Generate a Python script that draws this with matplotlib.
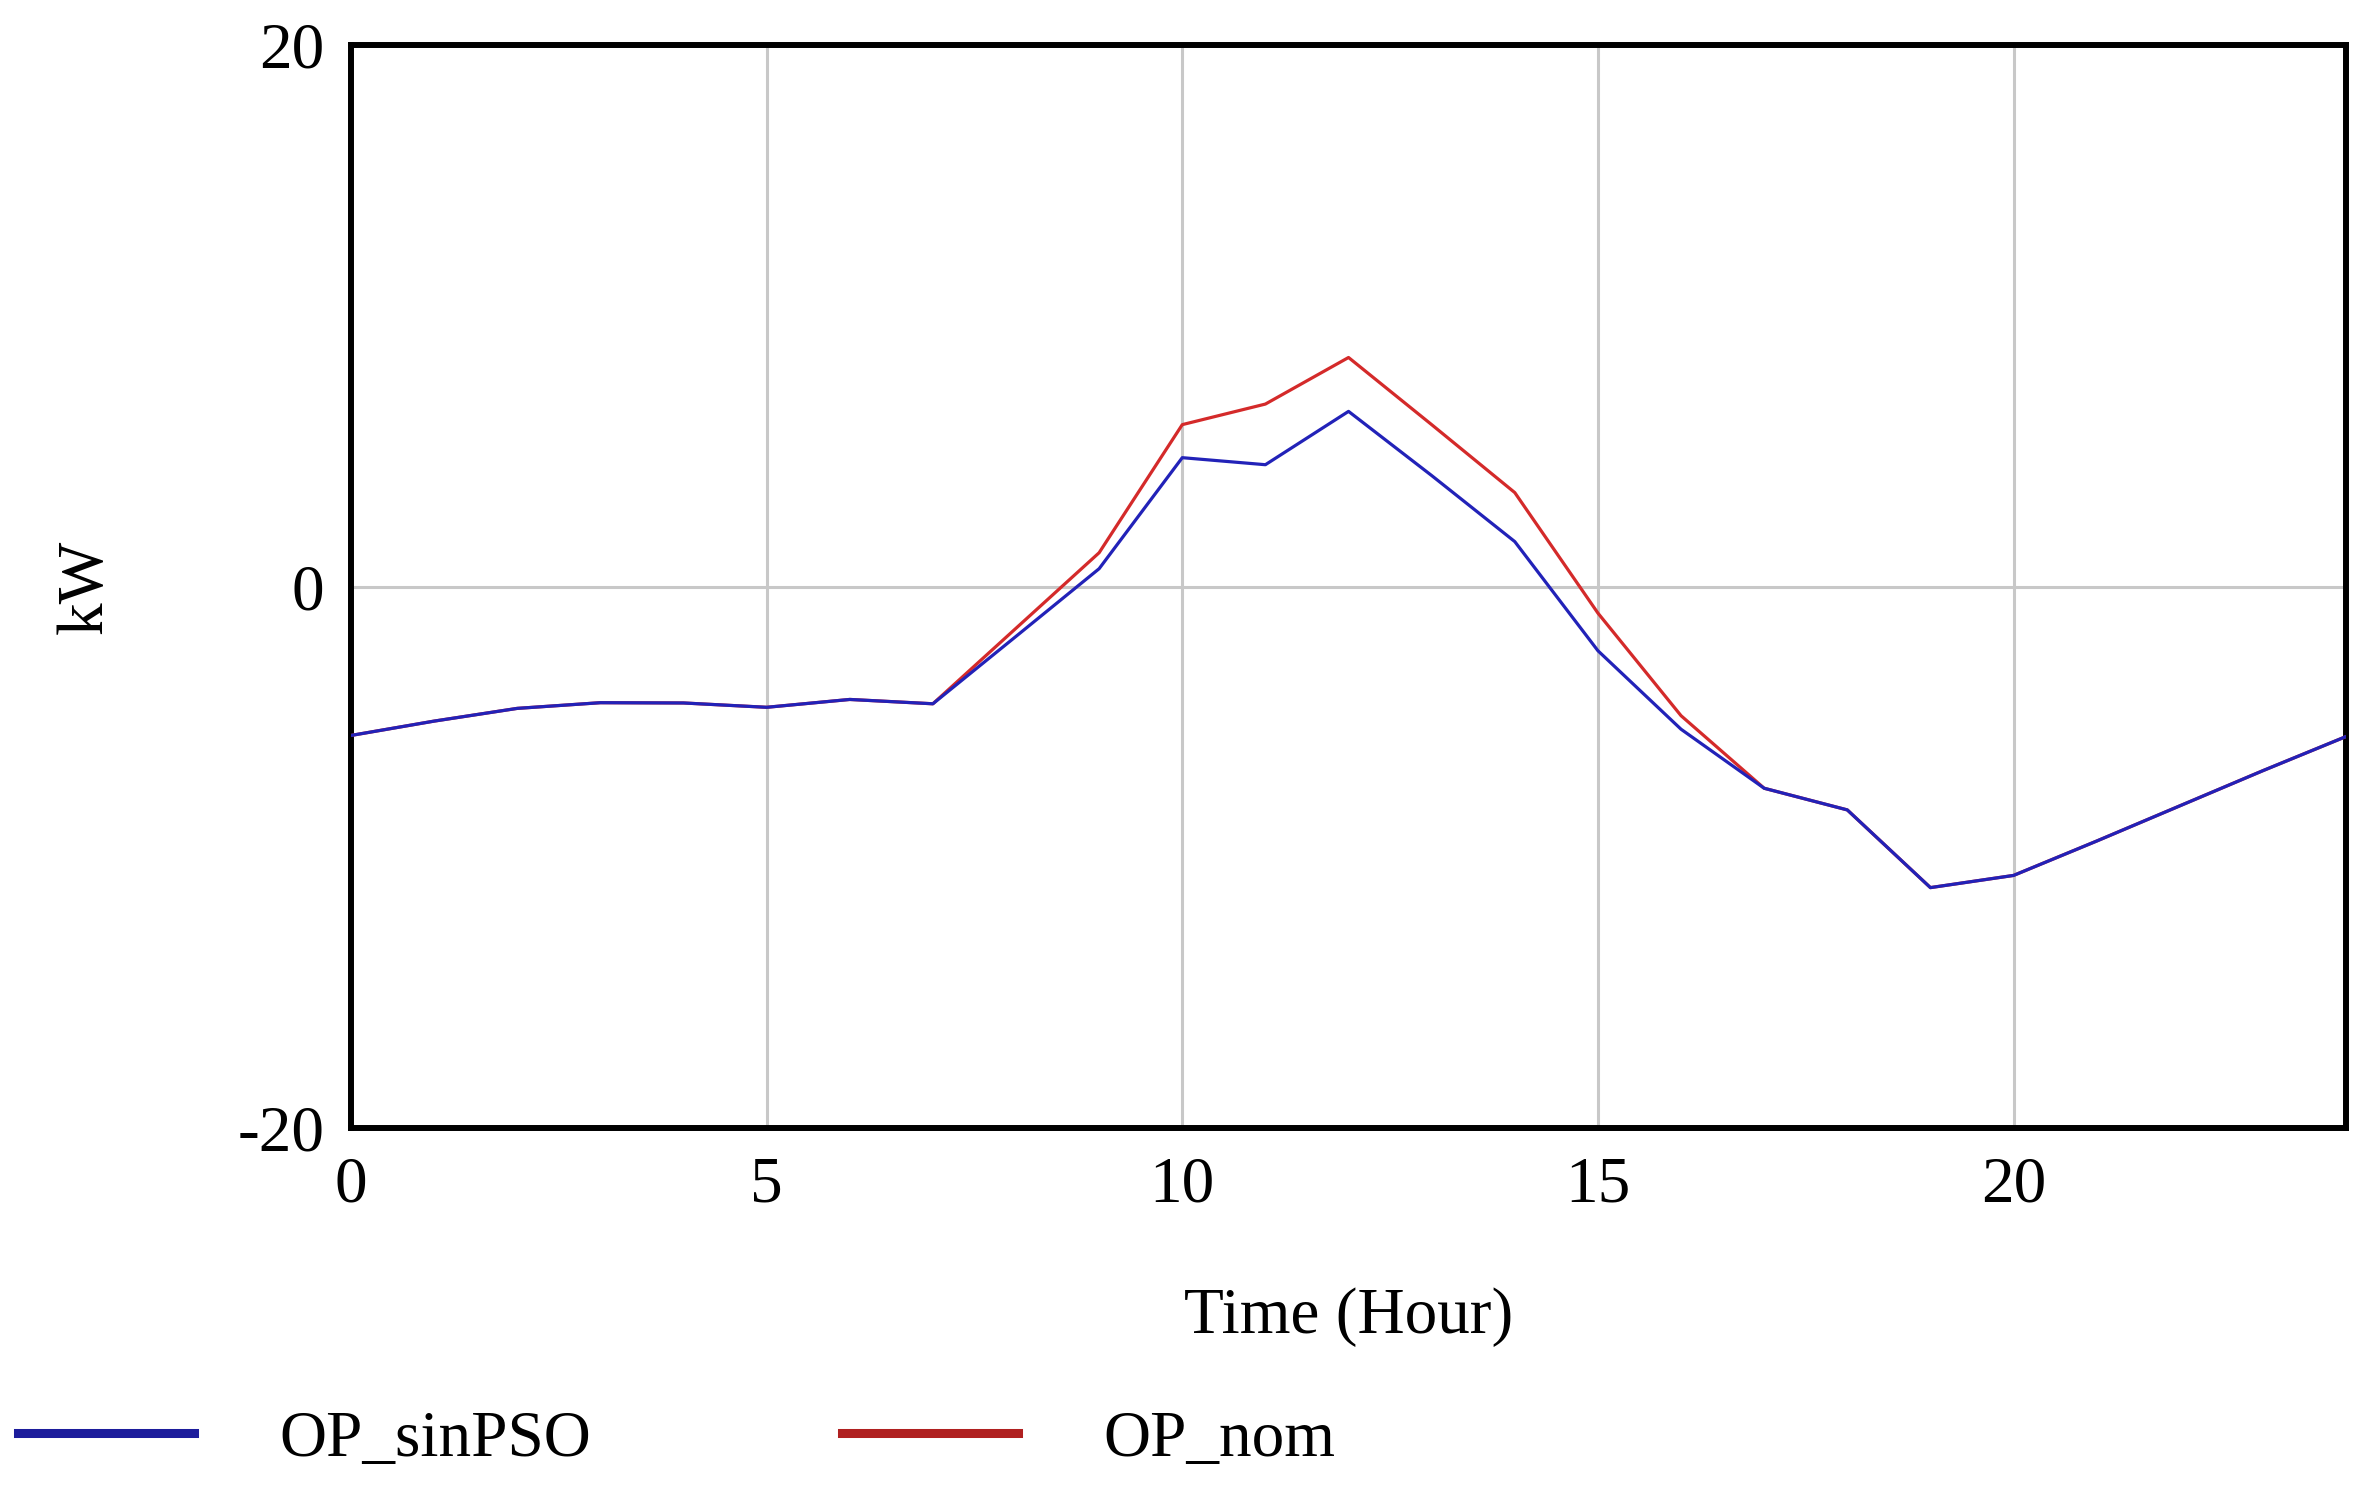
import matplotlib
matplotlib.use("Agg")
import matplotlib.pyplot as plt

# ---------- data ----------
hours = list(range(25))
op_sinpso = [-5.5, -4.97, -4.5, -4.29, -4.3, -4.46, -4.17, -4.33, -1.84, 0.66,
             4.76, 4.5, 6.47, 4.1, 1.66, -2.37, -5.27, -7.45, -8.25, -11.12,
             -10.67, -9.4, -8.1, -6.8, -5.54]
op_nom = [-5.5, -4.97, -4.5, -4.29, -4.3, -4.46, -4.17, -4.33, -1.54, 1.25,
          5.98, 6.74, 8.46, 5.98, 3.47, -0.98, -4.77, -7.45, -8.25, -11.12,
          -10.67, -9.4, -8.1, -6.8, -5.54]
series_names = ["OP_sinPSO", "OP_nom"]
xticks = [0, 5, 10, 15, 20]
yticks = [-20, 0, 20]

plt.rcParams["font.family"] = ["Liberation Serif", "DejaVu Serif"]
plt.rcParams["axes.unicode_minus"] = False
FS = 47

fig = plt.figure(figsize=(23.7, 14.87), dpi=100)
ax = fig.add_axes([0.1481, 0.2414, 0.8418, 0.7283])

l_nom, = ax.plot(hours, op_nom, color="#d42a2a", lw=2.3, zorder=3)
l_sin, = ax.plot(hours, op_sinpso, color="#2222b8", lw=2.3, zorder=4)

ax.set_xlim(0, 24)
ax.set_ylim(-20, 20)
ax.set_xticks(xticks)
ax.set_yticks(yticks)
ax.tick_params(length=0, labelsize=FS)
ax.tick_params(axis="x", pad=20)
ax.tick_params(axis="y", pad=19)
ax.grid(True, color="#c8c8c8", lw=2.2)
ax.set_axisbelow(True)
for s in ax.spines.values():
    s.set_linewidth(4.3)
    s.set_color("black")

ax.set_xlabel("Time (Hour)", fontsize=FS, labelpad=52)
ax.set_ylabel("kW", fontsize=FS, labelpad=88)

fig.legend([l_sin, l_nom], series_names, loc="center left",
           bbox_to_anchor=(0.0076, 0.0316), ncol=2, frameon=False,
           fontsize=FS, handlelength=2.7, handletextpad=1.3,
           columnspacing=3.85, borderpad=0, borderaxespad=0)
for h, c in zip(fig.legends[0].legend_handles, ["#1c1c9c", "#b02020"]):
    h.set_linewidth(6.5)
    h.set_color(c)

fig.savefig("out.png", dpi=100)
